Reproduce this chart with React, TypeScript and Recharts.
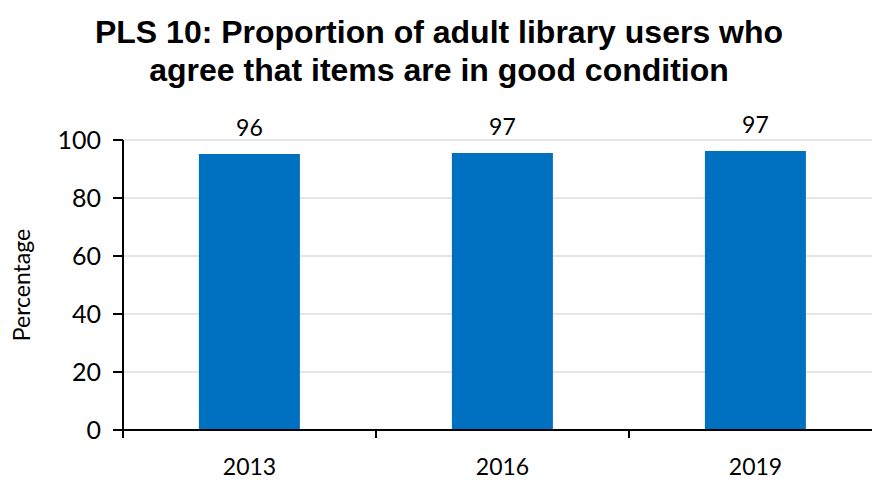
import React from "react";
import {
  BarChart,
  Bar,
  XAxis,
  YAxis,
  CartesianGrid,
  LabelList,
} from "recharts";

const years = ["2013", "2016", "2019"];
const agreePct = [95.2, 95.5, 96.2];
const valueLabels = ["96", "97", "97"];
const yTicks = [0, 20, 40, 60, 80, 100];

const chartData = years.map((year, i) => ({
  year,
  value: agreePct[i],
  label: valueLabels[i],
}));

const FONT = "Lato, 'Open Sans', sans-serif";
const TITLE_FONT = "'Liberation Sans', Arial, sans-serif";
const X_TICK_GAP = 29;

// year label plus a tick mark on the left edge of its band (Excel style)
function YearTick(props: any) {
  const { x, y, payload, width, visibleTicksCount } = props;
  const band = width / visibleTicksCount;
  const edge = payload.coordinate - band / 2;
  const axisY = y - X_TICK_GAP;
  return (
    <g>
      <line
        x1={edge}
        x2={edge}
        y1={axisY}
        y2={axisY + 8}
        stroke="#000"
        strokeWidth={2}
      />
      <text
        x={x}
        y={y}
        dy="0.71em"
        textAnchor="middle"
        fill="#000"
        fontSize={23}
        fontFamily={FONT}
      >
        {payload.value}
      </text>
    </g>
  );
}

export default function App() {
  return (
    <div
      style={{
        position: "absolute",
        left: 0,
        top: 0,
        width: 872,
        height: 483,
        overflow: "hidden",
        background: "#fff",
        fontFamily: FONT,
      }}
    >
      <BarChart
        width={882}
        height={483}
        data={chartData}
        margin={{ top: 140, right: 0, left: 0, bottom: 0 }}
        barCategoryGap="30%"
      >
        <CartesianGrid vertical={false} stroke="#e6e6e6" strokeWidth={2} />
        <XAxis
          dataKey="year"
          axisLine={{ stroke: "#000", strokeWidth: 2 }}
          tickLine={false}
          tickSize={0}
          tickMargin={X_TICK_GAP}
          height={53}
          interval={0}
          tick={<YearTick />}
        />
        <YAxis
          width={123}
          domain={[0, 100]}
          ticks={yTicks}
          interval={0}
          axisLine={{ stroke: "#000", strokeWidth: 2 }}
          tickLine={{ stroke: "#000", strokeWidth: 2 }}
          tickSize={10}
          tickMargin={12}
          tick={{ fill: "#000", fontSize: 25, fontFamily: FONT }}
          label={{
            value: "Percentage",
            angle: -90,
            position: "insideLeft",
            offset: 22,
            fill: "#000",
            fontSize: 23,
            fontFamily: FONT,
            style: { textAnchor: "middle" },
          }}
        />
        <Bar dataKey="value" fill="#0070c0" isAnimationActive={false}>
          <LabelList
            dataKey="label"
            position="top"
            offset={18}
            fill="#000"
            fontSize={23}
            fontFamily={FONT}
          />
        </Bar>
      </BarChart>
      <div
        style={{
          position: "absolute",
          left: 0,
          top: 13,
          width: 878,
          textAlign: "center",
          fontFamily: TITLE_FONT,
          fontWeight: 700,
          fontSize: 32,
          lineHeight: "38px",
          color: "#000",
        }}
      >
        PLS 10: Proportion of adult library users who
        <br />
        agree that items are in good condition
      </div>
    </div>
  );
}
